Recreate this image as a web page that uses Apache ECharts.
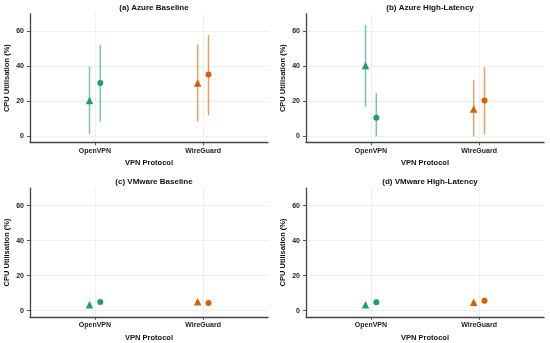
<!DOCTYPE html>
<html>
<head>
<meta charset="utf-8">
<script src="https://cdn.jsdelivr.net/npm/echarts@6/dist/echarts.min.js"></script>
<style>html,body{margin:0;padding:0;background:#fff}#c{width:550px;height:343px}</style>
</head>
<body>
<div id="c"></div>
<script>
const categories = ['OpenVPN', 'WireGuard'];
const panelTitles = ['(a) Azure Baseline', '(b) Azure High-Latency', '(c) VMware Baseline', '(d) VMware High-Latency'];
const yTicks = [0, 20, 40, 60];
const protocolColors = ['#1b9e77', '#d95f02'];
// triangle marker series: [OpenVPN, WireGuard] per panel
const triMean = [[20.5, 30.4], [40.4, 15.6], [3.4, 5.1], [3.4, 4.8]];
const triLow  = [[1.3, 8.5],  [16.9, 0.0], [2.6, 4.3], [2.6, 4.0]];
const triHigh = [[39.7, 52.4], [63.6, 32.1], [4.2, 5.9], [4.2, 5.6]];
// circle marker series
const cirMean = [[30.4, 35.3], [10.6, 20.5], [5.0, 4.4], [4.8, 5.7]];
const cirLow  = [[8.5, 12.0], [0.0, 1.1], [4.2, 3.6], [4.0, 4.9]];
const cirHigh = [[52.2, 57.9], [24.7, 39.5], [5.8, 5.2], [5.6, 6.5]];

const FONT = 'Liberation Sans, Arial, sans-serif';
const gridPos = [
  {left: 30, top: 13.8, width: 238, height: 128.6},
  {left: 306, top: 13.8, width: 238, height: 128.6},
  {left: 30, top: 188.2, width: 238, height: 128.6},
  {left: 306, top: 188.2, width: 238, height: 128.6}
];
const dodge = 0.05;

const grids = [], xAxes = [], yAxes = [], titles = [], series = [];
gridPos.forEach((g, p) => {
  grids.push(Object.assign({containLabel: false}, g));
  titles.push({
    text: panelTitles[p], left: g.left + g.width / 2, top: g.top - 15.5, textAlign: 'center',
    textStyle: {fontFamily: FONT, fontSize: 8, fontWeight: 'bold', color: '#111'}
  });
  xAxes.push({
    type: 'value', gridIndex: p, min: 0.4, max: 2.6,
    name: 'VPN Protocol', nameLocation: 'middle', nameGap: 17,
    nameTextStyle: {fontFamily: FONT, fontSize: 7.5, fontWeight: 'bold', color: '#111'},
    axisLine: {show: true, onZero: false, lineStyle: {color: '#444', width: 1.3}},
    axisTick: {show: true, customValues: [1, 2], length: 3, lineStyle: {color: '#555'}},
    axisLabel: {customValues: [1, 2], margin: 5, fontFamily: FONT, fontSize: 7, fontWeight: 'bold', color: '#222',
      formatter: v => categories[Math.round(v) - 1] || ''},
    splitLine: {show: true, lineStyle: {color: '#ebebeb', width: 0.8}}
  });
  yAxes.push({
    type: 'value', gridIndex: p, min: -3.5, max: 70,
    name: 'CPU Utilisation (%)', nameLocation: 'middle', nameGap: 19, nameRotate: 90,
    nameTextStyle: {fontFamily: FONT, fontSize: 7.5, fontWeight: 'bold', color: '#111'},
    axisLine: {show: true, onZero: false, lineStyle: {color: '#444', width: 1.3}},
    axisTick: {show: true, customValues: yTicks, length: 3, lineStyle: {color: '#555'}},
    axisLabel: {customValues: yTicks, margin: 6, fontFamily: FONT, fontSize: 7, fontWeight: 'bold', color: '#222'},
    splitLine: {show: true, lineStyle: {color: '#ebebeb', width: 0.8}}
  });
  const sets = [
    {mean: triMean[p], low: triLow[p], high: triHigh[p], off: -dodge, symbol: 'triangle', size: 7.5},
    {mean: cirMean[p], low: cirLow[p], high: cirHigh[p], off: dodge, symbol: 'circle', size: 6}
  ];
  sets.forEach(s => {
    const data = categories.map((c, i) => [i + 1 + s.off, s.mean[i], s.low[i], s.high[i], i]);
    series.push({
      type: 'custom', xAxisIndex: p, yAxisIndex: p, data: data, z: 2,
      encode: {x: 0, y: [1, 2, 3]},
      renderItem: (params, api) => {
        const x = api.value(0);
        const a = api.coord([x, api.value(2)]);
        const b = api.coord([x, api.value(3)]);
        return {type: 'line', shape: {x1: a[0], y1: a[1], x2: b[0], y2: b[1]},
          style: {stroke: protocolColors[api.value(4)], lineWidth: 1.5, opacity: 0.6}};
      }
    });
    series.push({
      type: 'scatter', xAxisIndex: p, yAxisIndex: p, z: 3,
      symbol: s.symbol, symbolSize: s.size,
      data: data.map(d => ({value: [d[0], d[1]], itemStyle: {color: protocolColors[d[4]], opacity: 1}}))
    });
  });
});

const chart = echarts.init(document.getElementById('c'), null, {renderer: 'canvas'});
chart.setOption({
  animation: false, backgroundColor: '#fff',
  title: titles, grid: grids, xAxis: xAxes, yAxis: yAxes, series: series
});
</script>
</body>
</html>
